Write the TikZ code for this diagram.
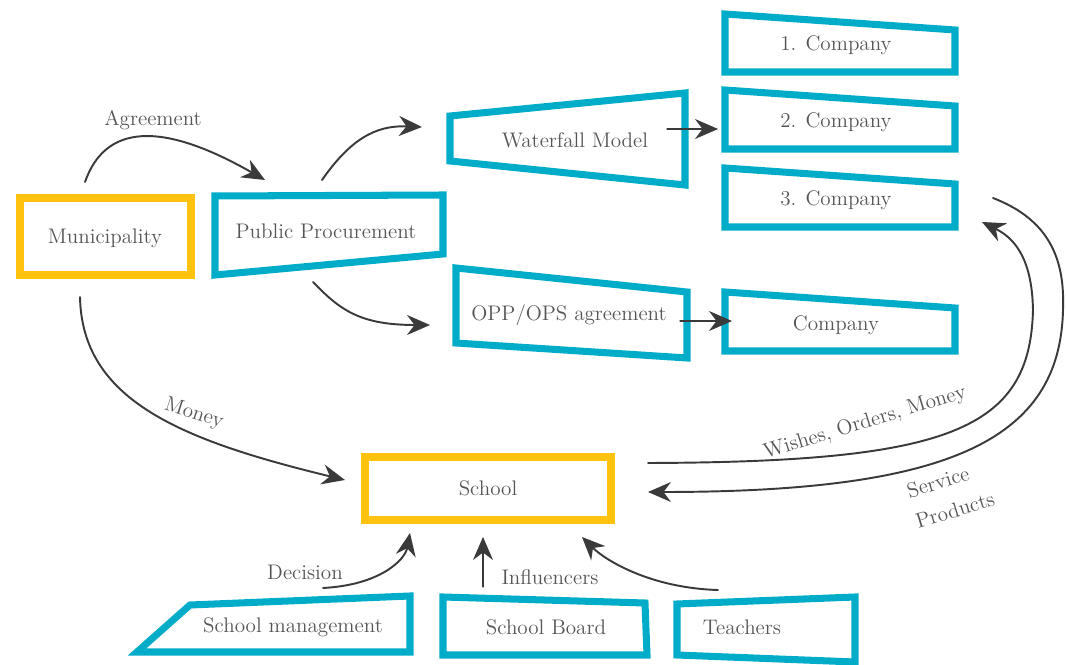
\documentclass[tikz,border=0pt]{standalone}
\usepackage{tikz}
\usetikzlibrary{arrows.meta}
\definecolor{boxblue}{RGB}{0,172,199}
\definecolor{boxyellow}{RGB}{255,194,14}
\definecolor{txtgray}{RGB}{85,85,85}
\definecolor{arrgray}{RGB}{58,58,58}
\tikzset{
  bluebox/.style={line width=4pt, color=boxblue, line join=miter},
  yellowbox/.style={line width=4pt, color=boxyellow, line join=miter},
  lbl/.style={color=txtgray, font=\fontsize{12}{14}\selectfont},
  flow/.style={line width=1.1pt, color=arrgray, -{Stealth[length=4.6mm,width=4mm]}},
  thinflow/.style={line width=0.6pt, color=arrgray, -{Stealth[length=4.6mm,width=4mm]}}
}
\begin{document}
\begin{tikzpicture}[line cap=round,x=0.02cm,y=-0.02cm]
  \useasboundingbox (0,0) rectangle (1066,665);
  %% boxes
  \draw [yellowbox] (20,198) rectangle (191,275);
  \draw [bluebox] (215,196) -- (443,195) -- (443,254) -- (215,275) -- cycle;
  \draw [bluebox] (450,116) -- (685,93) -- (685,185) -- (450,161) -- cycle;
  \draw [bluebox] (725,14) -- (955,30) -- (955,72) -- (725,72) -- cycle;
  \draw [bluebox] (725,90) -- (955,106) -- (955,149) -- (725,149) -- cycle;
  \draw [bluebox] (725,168) -- (955,184) -- (955,227) -- (725,227) -- cycle;
  \draw [bluebox] (456,268) -- (687,292) -- (687,358) -- (456,343) -- cycle;
  \draw [bluebox] (725,292) -- (955,308) -- (955,351) -- (725,351) -- cycle;
  \draw [yellowbox] (365,457) rectangle (611,520);
  \draw [bluebox] (190,605) -- (410,596) -- (410,652) -- (137,652) -- cycle;
  \draw [bluebox] (443,597) -- (645,603) -- (647,655) -- (443,655) -- cycle;
  \draw [bluebox] (677,604) -- (855,597) -- (855,662) -- (677,655) -- cycle;
  %% texts
  \node [lbl] (muni) at (105,238) {Municipality};
  \node [lbl] (procure) at (326,231) {Public Procurement};
  \node [lbl] (waterfall) at (575,140) {Waterfall Model};
  \node [lbl] (compA) at (836,45) {1. Company};
  \node [lbl] (compB) at (836,122) {2. Company};
  \node [lbl] (compC) at (836,200) {3. Company};
  \node [lbl] (opp) at (569,315) {OPP/OPS agreement};
  \node [lbl] (compD) at (836,325) {Company};
  \node [lbl] (school) at (488,488) {School};
  \node [lbl] (mgmt) at (293,627) {School management};
  \node [lbl] (board) at (546,627) {School Board};
  \node [lbl] (teachers) at (742,627) {Teachers};
  %% connector ends
  \coordinate (agrS) at (85,182);   \coordinate (agrE) at (265,180);
  \coordinate (wfS) at (322,180);   \coordinate (wfE) at (422,127);
  \coordinate (opS) at (313,282);   \coordinate (opE) at (430,325);
  \coordinate (monS) at (80,297);   \coordinate (monE) at (345,480);
  \coordinate (wcS) at (667,129);   \coordinate (wcE) at (718,129);
  \coordinate (ocS) at (680,321);   \coordinate (ocE) at (732,321);
  \coordinate (wishS) at (648,463); \coordinate (wishE) at (982,222);
  \coordinate (servS) at (993,198); \coordinate (servE) at (648,492);
  \coordinate (decS) at (323,588);  \coordinate (decE) at (410,533);
  \coordinate (infS) at (483,587);  \coordinate (infE) at (483,537);
  \coordinate (teaS) at (718,590);  \coordinate (teaE) at (582,537);
  %% connectors
  \draw [flow] (agrS) .. controls (105,125) and (160,120) .. (agrE);
  \draw [flow] (wfS) .. controls (350,140) and (375,125) .. (wfE);
  \draw [flow] (opS) .. controls (340,310) and (360,325) .. (opE);
  \draw [flow] (monS) .. controls (82,400) and (180,440) .. (monE);
  \draw [thinflow] (wcS) -- (wcE);
  \draw [thinflow] (ocS) -- (ocE);
  \draw [flow] (wishS) .. controls (950,462) and (1030,430) .. (1033,310)
     .. controls (1032,255) and (1012,237) .. (wishE);
  \draw [flow] (servS) .. controls (1050,220) and (1065,260) .. (1063,310)
     .. controls (1060,440) and (950,492) .. (servE);
  \draw [flow] (decS) .. controls (380,585) and (405,560) .. (decE);
  \draw [thinflow] (infS) -- (infE);
  \draw [flow] (teaS) .. controls (650,588) and (605,560) .. (teaE);
  %% connector labels
  \node [lbl] (agrL) at (153,120) {Agreement};
  \node [lbl, rotate=-18] (monL) at (194,414) {Money};
  \node [lbl, rotate=17] (wishL) at (865,423) {Wishes, Orders, Money};
  \node [lbl, rotate=17] (servL) at (938,482) {Service};
  \node [lbl, rotate=17] (prodL) at (955,510) {Products};
  \node [lbl] (decL) at (305,572) {Decision};
  \node [lbl] (infL) at (550,577) {Influencers};
\end{tikzpicture}
\end{document}
